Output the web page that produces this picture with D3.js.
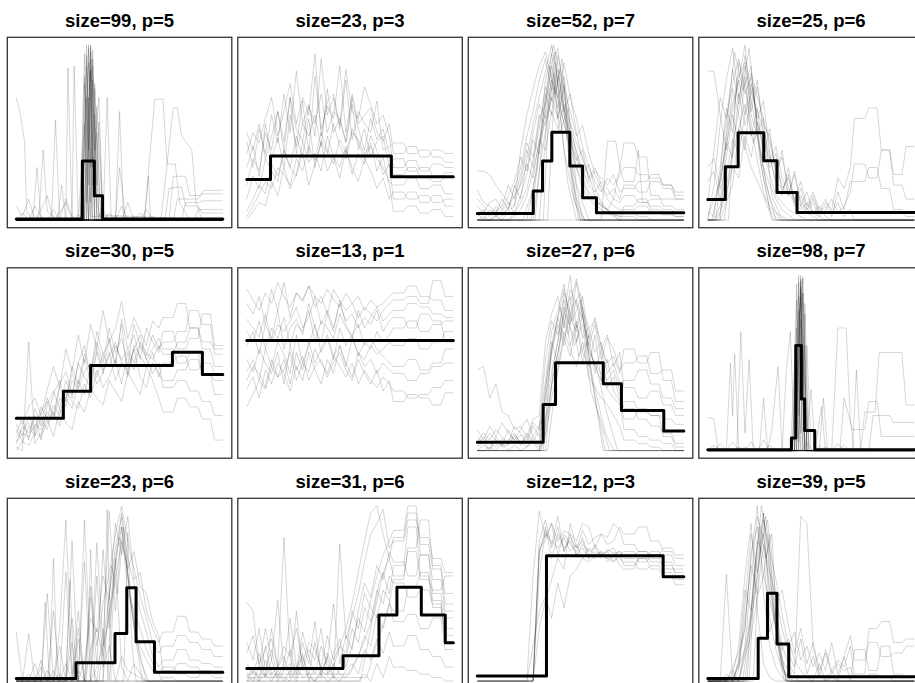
<!DOCTYPE html>
<html>
<head>
<style>
  body { margin: 0; background: #fff; overflow: hidden; }
  svg { display: block; }
  .title { font-family: 'Liberation Sans', Arial, sans-serif; font-weight: bold; font-size: 18.5px; }
</style>
</head>
<body>
<svg id="svgVis"></svg>
<script src="https://cdn.jsdelivr.net/npm/d3@7/dist/d3.min.js"></script>
<script>

// shared x positions (0-100) for the grey lines given as y lists
var xGrid = [0,3,6,9,12,15,18,21,24,27,30,33,36,39,42,45,48,51,54,57,60,63,66,69,
             71,76,78,82,84,88,90,94,96,100];

var titles = ["size=99, p=5", "size=23, p=3", "size=52, p=7", "size=25, p=6",
              "size=30, p=5", "size=13, p=1", "size=27, p=6", "size=98, p=7",
              "size=23, p=6", "size=31, p=6", "size=12, p=3", "size=39, p=5"];

// black step lines, [x, y] in percent of the panel range
var step1  = [[0,0.6],[32,33.7],[37.8,13.9],[41.8,0.6],[100,0.6]];
var step2  = [[0,23.2],[11.5,36.6],[70,24.8],[100,24.8]];
var step3  = [[0,3.8],[27.1,16.6],[31.6,33.7],[36.1,50.1],[44.8,30.9],[51,12.8],[57.7,4.2],[100,4.2]];
var step4  = [[0,11.8],[8.5,30.5],[14.7,49.9],[27.1,33.9],[33.5,15.8],[43.2,4.4],[100,4.4]];
var step5  = [[0,18.5],[22.8,33.9],[36,48.6],[75.6,56.2],[90.1,43.4],[100,43.4]];
var step6  = [[0,62.9],[100,62.9]];
var step7  = [[0,4.8],[31.9,26.3],[37.9,50.1],[61,38.1],[69.8,22.9],[90.3,11.2],[100,11.2]];
var step8  = [[0,0.5],[40.5,7.2],[42.6,60],[45.3,29.5],[46.9,11.4],[51.8,0.5],[100,0.5]];
var step9  = [[0,1.5],[28.9,10.5],[47.8,27.2],[53.5,53.3],[58,22.5],[66.9,5],[100,5]];
var step10 = [[0,7.2],[46.6,14.5],[64,37.7],[72.7,53.5],[84.5,37.7],[96.1,21.9],[100,21.9]];
var step11 = [[0,2.9],[33.5,71.6],[90,59.6],[100,59.6]];
var step12 = [[0,1.5],[24.4,24.4],[28.9,50.1],[33.5,21.1],[39.2,2.5],[100,2.5]];

// grey lines as y values on xGrid
var grey1 = [
  [8,2,12,0,6,14,0,4,10,0,3,0,0,0,0,4,0,8,0,2,0,6,0,0, 0,0,0,0,0,0,0,0,0,0],
  [0,4,0,8,2,0,6,0,12,2,0,0,0,0,6,0,2,0,10,0,4,0,2,0, 0,0,0,0,0,0,0,0,0,0]
];
var grey2 = [
  [20,35,28,50,40,62,45,70,38,55,48,60,42,75,50,58,44,66,40,52,36,45,48,30, 35,35,28,28,30,30,25,25,27,27],
  [45,30,52,38,60,44,72,50,85,55,66,48,92,60,70,52,80,46,62,55,50,68,40,42, 44,44,38,38,40,40,36,36,33,33],
  [5,12,20,15,32,25,40,30,48,36,58,30,45,38,55,42,35,50,46,38,42,35,30,22, 20,20,24,24,18,18,20,20,15,15],
  [30,42,25,55,35,47,30,60,42,68,38,82,52,65,58,88,50,72,55,60,64,50,45,55, 38,38,42,42,36,36,40,40,38,38],
  [2,8,15,22,18,30,26,20,35,28,42,34,50,40,32,46,38,52,44,35,48,40,26,32, 12,12,16,16,10,10,14,14,8,8],
  [38,50,44,58,70,48,62,78,55,70,60,95,48,68,72,54,86,62,58,76,66,55,60,48, 30,30,34,34,28,28,32,32,30,30],
  [12,25,18,35,28,22,40,30,25,45,33,38,28,48,36,30,42,26,38,32,44,28,36,20, 5,5,8,8,4,4,6,6,2,2],
  [50,40,55,35,48,62,40,70,52,45,65,55,72,50,62,58,45,70,52,40,58,46,52,38, 26,26,30,30,24,24,22,22,25,25],
  [0,5,10,8,22,14,30,18,26,38,20,32,44,28,36,24,40,30,22,35,28,18,24,12, 16,16,12,12,14,14,10,10,12,12]
];
var grey3 = [
  [28,28,26,20,15,10,8,40,60,75,88,96,80,70,55,40,30,22,14,10,6,4,2,0, 4,4,2,2,0,0,0,0,0,0],
  [2,5,3,8,4,6,20,12,35,55,70,85,100,78,60,48,30,18,12,8,10,5,3,2, 8,8,12,12,6,6,4,4,2,2],
  [17,10,8,4,12,6,18,30,48,62,80,92,74,86,64,50,40,28,20,16,22,18,12,10, 14,14,10,10,8,8,6,6,4,4],
  [0,2,0,3,0,5,8,22,40,30,58,66,88,70,82,56,44,36,24,30,20,14,18,12, 20,20,16,16,22,22,18,18,12,12],
  [4,0,6,2,5,10,4,14,26,46,38,72,60,94,76,62,48,54,38,26,18,12,8,6, 6,6,8,8,4,4,3,3,2,2],
  [8,4,10,12,6,14,22,36,28,50,66,58,80,64,90,70,58,42,30,22,16,24,20,26, 30,30,26,26,24,24,20,20,16,16],
  [0,0,0,2,0,0,4,10,18,34,52,76,68,82,62,72,50,34,26,14,8,6,4,2, 2,2,0,0,0,0,0,0,0,0],
  [3,6,2,5,8,20,12,26,44,36,60,54,70,58,76,48,36,24,16,12,8,6,12,30, 44,44,36,36,14,14,8,8,6,6],
  [0,0,0,0,0,0,2,6,14,28,44,62,90,98,70,54,38,26,32,18,10,6,3,0, 0,0,0,0,0,0,0,0,0,0],
  [12,8,4,6,2,8,14,20,32,24,46,40,62,52,66,44,34,40,22,28,24,20,26,16, 18,18,22,22,26,26,20,20,14,14]
];
var grey4 = [
  [85,85,60,40,75,60,42,30,22,14,8,4,2,0,0,0,0,0,0,0,0,0,0,0, 0,0,0,0,0,0,0,0,0,0],
  [0,20,55,80,98,70,88,60,48,30,20,12,6,3,0,0,0,0,0,0,0,0,0,0, 0,0,0,0,0,0,0,0,0,0],
  [5,2,30,64,50,90,72,82,56,40,26,14,10,6,4,2,0,0,0,0,0,0,0,0, 0,0,0,0,0,0,0,0,0,0],
  [10,40,70,58,86,66,94,74,62,52,36,22,18,24,12,8,4,2,0,0,0,0,0,0, 0,0,0,0,0,0,0,0,0,0],
  [0,0,8,26,46,38,60,84,70,58,44,30,20,14,26,8,16,4,2,0,0,0,0,0, 0,0,0,0,0,0,0,0,0,0],
  [2,12,22,44,36,72,54,66,80,46,34,42,24,16,10,6,10,4,8,2,0,0,0,0, 0,0,0,0,0,0,0,0,0,0],
  [30,35,18,50,66,80,100,62,76,54,48,28,36,18,12,22,8,16,6,12,4,10,2,6, 0,0,0,0,0,0,0,0,0,0],
  [0,0,0,10,20,52,40,78,58,68,38,20,14,30,10,18,6,12,4,8,2,16,6,22, 22,22,30,30,18,18,6,6,2,2],
  [22,28,12,36,60,44,82,48,64,36,52,24,40,14,28,10,6,14,4,10,6,24,18,30, 58,58,64,64,40,40,26,26,42,42],
  [0,0,4,16,30,24,48,36,56,44,30,38,16,26,8,14,4,10,2,6,12,4,8,16, 32,32,24,24,40,40,20,20,12,12]
];
var grey5 = [
  [5,10,8,15,12,22,18,30,25,40,35,45,50,42,55,48,60,52,58,50,62,56,52,60, 55,55,62,62,70,70,58,58,48,48],
  [15,8,20,12,25,18,32,40,28,48,38,55,45,62,50,70,56,64,48,72,60,54,66,58, 62,62,68,68,80,80,72,72,55,55],
  [0,5,3,10,8,16,22,14,30,24,40,32,48,38,44,56,40,50,46,58,42,36,50,44, 40,40,46,46,52,52,44,44,40,40],
  [10,18,6,24,14,30,20,38,45,32,50,60,42,68,55,62,48,75,58,66,52,70,62,56, 68,68,58,58,64,64,78,78,60,60],
  [2,0,62,4,10,18,8,24,16,12,28,22,35,30,26,40,34,28,45,38,32,48,40,30, 22,22,30,30,25,25,18,18,6,6],
  [20,15,25,30,20,35,48,36,58,45,66,50,72,58,80,62,70,85,64,76,68,60,74,70, 76,76,84,84,70,70,62,62,58,58],
  [8,12,16,10,22,28,18,36,30,44,36,52,40,58,46,54,62,50,44,60,54,48,56,42, 50,50,54,54,46,46,50,50,44,44],
  [12,5,14,8,18,12,26,20,34,28,24,38,30,46,36,42,52,38,56,46,60,52,44,50, 36,36,40,40,34,34,28,28,20,20],
  [4,14,10,20,6,26,34,24,40,30,50,42,36,56,44,64,50,72,42,58,66,52,58,64, 58,58,50,50,56,56,44,44,32,32]
];
var grey6 = [
  [84,78,88,72,92,80,96,76,90,85,94,82,88,78,92,86,80,84,76,82,78,74,80,84, 86,86,88,88,84,84,97,97,88,88],
  [60,68,55,72,64,80,58,70,75,66,84,70,62,78,68,86,72,64,80,70,76,82,74,78, 80,80,84,84,82,82,78,78,76,76],
  [45,52,40,58,48,62,55,44,66,50,60,72,56,64,52,70,60,66,54,62,58,68,62,66, 70,70,74,74,68,68,72,72,74,74],
  [25,32,40,35,48,42,52,38,56,46,62,50,58,66,54,60,48,64,56,52,60,55,58,62, 60,60,64,64,58,58,62,62,68,68],
  [68,62,74,58,70,64,76,60,72,68,80,62,74,70,64,78,70,66,72,60,64,58,54,50, 48,48,52,52,46,46,50,50,58,58],
  [40,48,44,36,52,42,46,56,40,50,45,58,50,44,54,48,42,50,38,46,40,36,42,38, 34,34,30,30,32,32,36,36,40,40],
  [75,70,65,78,62,72,68,74,82,70,76,88,72,80,70,84,74,78,70,76,72,80,68,74, 76,76,70,70,78,78,74,74,62,62],
  [52,45,58,50,44,56,38,60,46,54,40,48,52,42,50,56,46,40,52,44,38,46,34,40, 28,28,32,32,30,30,26,26,33,33],
  [35,42,30,46,38,50,44,34,48,40,56,46,38,52,44,60,50,42,56,48,52,44,50,46, 44,44,40,40,44,44,48,48,50,50],
  [92,86,80,90,84,96,88,82,90,86,94,88,84,92,86,82,90,84,88,80,86,82,84,88, 90,90,94,94,88,88,86,86,80,80]
];
var grey7 = [
  [46,48,30,38,22,20,12,14,8,18,20,62,78,88,70,92,84,76,60,48,40,35,30,26, 28,28,22,22,20,20,18,18,15,15],
  [2,5,0,8,3,6,10,4,8,5,12,40,68,80,95,72,86,64,70,56,62,44,50,38, 40,40,46,46,38,38,30,30,24,24],
  [8,4,10,6,3,12,5,9,4,14,8,30,55,72,60,84,98,80,70,74,58,66,48,56, 36,36,30,30,34,34,26,26,20,20],
  [0,3,1,6,2,4,8,3,10,6,2,18,45,62,90,76,68,82,60,72,52,64,58,46, 50,50,54,54,44,44,46,46,34,34],
  [5,10,6,12,8,4,14,10,6,16,12,52,74,66,86,70,62,78,56,50,44,40,46,34, 24,24,18,18,14,14,10,10,4,4],
  [12,6,14,8,16,10,6,12,18,8,14,26,58,76,64,54,72,50,66,44,58,36,42,30, 18,18,24,24,20,20,8,8,2,2],
  [0,0,2,0,4,0,3,0,2,5,0,10,38,56,78,100,70,88,64,76,60,50,54,44, 58,58,50,50,56,56,40,40,28,28],
  [3,8,4,2,7,3,9,5,2,8,4,36,62,50,82,60,74,56,48,66,40,52,34,28, 12,12,8,8,6,6,4,4,0,0],
  [0,0,0,0,0,0,0,0,0,0,0,8,30,46,68,58,48,62,42,36,30,26,20,14, 6,6,4,4,2,2,0,0,0,0]
];
var grey8 = [
  [0,3,0,0,5,0,2,0,0,6,0,0,0,0,0,0,0,0,3,0,0,4,0,0, 0,0,0,0,0,0,0,0,0,0],
  [0,0,4,0,0,2,0,5,0,0,3,0,0,0,0,0,4,0,0,2,0,0,3,0, 0,0,0,0,0,0,0,0,0,0]
];
var grey9 = [
  [28,0,0,10,0,6,0,30,92,4,40,0,0,60,8,20,0,14,6,4,2,0,0,0, 0,0,0,0,0,0,0,0,0,0],
  [0,0,27,0,12,0,6,0,0,80,0,92,12,0,30,0,70,8,0,10,4,0,0,0, 2,2,0,0,0,0,0,0,0,0],
  [0,0,4,0,0,50,0,20,0,36,0,68,0,79,20,97,40,88,60,30,20,12,6,4, 8,8,4,4,2,2,6,6,4,4],
  [0,2,0,0,8,0,40,0,62,0,24,0,48,10,75,30,66,96,70,56,40,28,14,8, 12,12,18,18,12,12,10,10,8,8],
  [0,0,0,0,0,0,0,0,10,0,30,0,54,20,44,62,84,100,80,64,48,36,22,16, 20,20,26,26,22,22,18,18,14,14],
  [0,0,0,0,0,0,0,4,0,22,0,12,36,28,60,46,90,72,94,58,62,40,30,22, 28,28,37,37,28,28,24,24,20,20],
  [0,0,0,0,0,0,0,0,0,0,6,0,18,30,14,40,58,80,64,74,54,50,34,26, 6,6,10,10,8,8,4,4,2,2],
  [0,0,0,0,0,0,0,0,0,0,0,0,0,8,20,36,72,88,50,40,30,18,10,4, 0,0,0,0,0,0,0,0,0,0]
];
var grey10 = [
  [45,40,8,30,12,46,6,18,4,22,10,34,2,16,8,20,30,44,62,80,96,100,84,70, 60,60,74,74,58,58,52,52,60,60],
  [10,4,16,2,30,8,82,12,6,28,14,4,20,10,2,78,24,36,50,68,84,90,98,76, 80,80,92,92,82,82,70,70,62,62],
  [0,6,2,20,4,8,14,2,40,6,18,12,30,4,16,24,8,20,36,28,46,60,72,80, 86,86,100,100,78,78,64,64,44,44],
  [22,12,30,6,18,2,10,36,8,14,4,22,6,12,44,10,26,18,40,56,48,66,58,74, 68,68,60,60,72,72,58,58,40,40],
  [4,0,8,2,12,0,6,10,2,16,0,8,4,14,2,6,12,30,22,42,34,52,44,60, 56,56,48,48,52,52,44,44,30,30],
  [0,2,0,4,0,6,2,0,8,2,4,0,6,3,10,4,2,8,14,26,20,38,30,44, 40,40,54,54,62,62,46,46,22,22],
  [16,26,10,18,24,8,20,14,30,10,22,18,8,26,12,20,16,40,30,50,42,36,52,46, 34,34,38,38,30,30,36,36,18,18],
  [2,8,0,12,2,4,0,6,0,10,2,0,4,0,2,0,6,10,4,18,12,24,16,28, 20,20,26,26,18,18,14,14,8,8],
  [0,0,0,0,0,0,0,0,0,0,0,0,0,0,0,0,0,0,0,4,0,10,2,14, 8,8,6,6,4,4,2,2,0,0]
];
var grey11 = [
  [0,0,0,0,0,0,0,0,0,60,97,82,90,80,86,84,80,90,88,76,84,82,90,86, 78,78,74,74,72,72,76,76,72,72],
  [0,0,0,0,0,0,0,0,0,0,80,92,76,88,74,84,72,78,74,76,72,75,73,74, 72,72,74,74,70,70,72,72,66,66],
  [0,0,0,0,0,0,0,0,0,20,40,48,36,56,42,60,64,70,68,72,74,70,72,74, 70,70,72,72,68,68,66,66,62,62],
  [0,0,0,0,0,0,0,0,0,0,72,88,70,84,76,80,72,76,70,74,72,70,68,72, 66,66,70,70,64,64,60,60,55,55],
  [0,0,0,0,0,0,0,0,0,0,60,86,78,94,74,82,76,80,70,78,72,74,76,70, 68,68,64,64,66,66,62,62,58,58],
  [0,0,0,0,0,0,0,0,0,0,30,46,58,70,64,90,76,86,78,82,84,78,80,88, 84,84,88,88,80,80,74,74,70,70],
  [0,0,0,0,0,0,0,0,0,0,76,80,90,72,84,78,74,82,72,70,74,68,72,66, 64,64,70,70,74,74,68,68,60,60],
  [0,0,0,0,0,0,0,0,0,0,74,84,80,76,82,74,78,70,76,72,70,74,68,72, 74,74,68,68,72,72,64,64,64,64]
];
var grey12 = [
  [0,0,0,0,4,20,60,90,40,10,2,0,0,0,0,0,0,0,0,0,0,0,0,0, 0,0,0,0,0,0,0,0,0,0],
  [0,0,0,61,0,10,30,70,100,50,20,8,2,0,0,0,0,0,0,0,0,0,0,0, 0,0,0,0,0,0,0,0,0,0],
  [0,0,0,0,0,6,44,84,62,96,36,18,6,2,0,0,0,0,0,0,0,0,0,0, 0,0,0,0,0,0,0,0,0,0],
  [0,0,2,0,8,16,30,74,88,60,46,30,12,6,2,0,0,0,0,0,0,0,0,0, 0,0,0,0,0,0,0,0,0,0],
  [0,0,0,4,0,12,52,40,80,72,28,40,20,10,4,94,90,20,4,0,2,0,0,0, 0,0,0,0,0,0,0,0,0,0],
  [0,0,0,0,6,0,20,58,94,82,54,34,18,24,12,6,2,0,10,0,6,0,14,0, 18,18,6,6,20,20,4,4,2,2],
  [0,0,0,0,0,10,36,66,50,78,62,48,30,16,8,24,4,14,2,18,6,12,8,20, 4,4,30,30,34,34,22,22,24,24],
  [0,0,0,0,2,8,18,40,70,92,74,58,38,20,28,12,20,8,16,6,22,4,14,26, 12,12,22,22,14,14,16,16,20,20],
  [0,0,0,0,0,0,14,26,48,60,84,46,52,32,16,30,10,22,6,16,4,10,6,8, 2,2,4,4,2,2,0,0,0,0]
];

// extra grey lines with their own x positions: x0,y0,x1,y1,...
var spikes1 = [
  [0,70, 2,60, 4,45, 5,5, 8,0, 11,2, 13,40, 15,5, 20,0, 100,0],
  [0,0, 8,0, 10,30, 12,0, 17,0, 19,57, 21,0, 27,0, 28,88, 30,0, 100,0],
  [0,0, 20,0, 22,20, 24,0, 25,87, 27,0, 100,0],
  [0,0, 42,0, 44,70, 46,0, 48,0, 50,62, 52,0, 100,0],
  [0,0, 48,0, 50,30, 53,0, 62,0, 64,25, 65,0, 100,0],
  [0,0, 62,0, 67,69, 71,69, 73,32, 77,32, 79,10, 84,0, 100,0],
  [0,0, 70,0, 76,64, 78,64, 80,48, 85,40, 87,10, 90,0, 100,0],
  [0,0, 74,0, 76,25, 82,25, 84,14, 89,14, 91,17, 100,17],
  [0,0, 76,0, 78,12, 88,12, 90,15, 100,15],
  [0,0, 80,0, 82,10, 88,10, 90,11, 100,11],
  [0,0, 86,0, 88,6, 100,6],
  [0,0, 72,0, 74,18, 80,19, 82,8, 88,8, 90,4, 100,4],
  [0,0, 31,0, 33,95, 35,0, 100,0],
  [0,0, 32,0, 34,100, 36,2, 100,0],
  [0,0, 33,0, 35,90, 37,0, 100,0],
  [0,0, 32,0, 35,98, 38,0, 100,0],
  [0,0, 34,0, 36,85, 38,0, 100,0],
  [0,0, 33,0, 36,96, 39,0, 100,0],
  [0,0, 35,0, 37,80, 39,3, 100,0],
  [0,0, 31,0, 34,70, 36,10, 38,60, 40,0, 100,0],
  [0,0, 35,0, 38,75, 41,0, 100,0],
  [0,0, 30,0, 33,55, 35,0, 100,0],
  [0,0, 36,0, 39,65, 42,0, 100,0],
  [0,0, 33,0, 35,100, 37,20, 39,50, 41,0, 100,0],
  [0,0, 32,0, 34,88, 36,30, 37,92, 39,0, 100,0],
  [0,0, 34,0, 36,100, 38,40, 40,70, 42,0, 100,0],
  [0,0, 33,0, 34,94, 35,20, 36,86, 38,0, 100,0],
  [0,0, 35,0, 36,92, 37,30, 38,78, 40,0, 100,0],
  [0,0, 31,0, 33,78, 35,40, 37,97, 39,10, 41,0, 100,0],
  [0,0, 36,0, 37,88, 39,20, 40,56, 42,0, 100,0],
  [0,0, 34,0, 35,60, 36,99, 38,0, 100,0],
  [0,0, 32,0, 33,82, 34,10, 35,70, 37,0, 100,0]
];
var spikes2 = [];
var spikes3 = [
  [0,0, 60,0, 63,45, 67,45, 69,30, 71,22, 76,22, 78,40, 80,10, 82,10, 84,12, 100,12],
  [0,0, 26,0, 30,40, 33,70, 36,95, 40,60, 44,20, 48,0, 100,0],
  [0,0, 28,0, 32,55, 35,88, 38,72, 41,92, 45,30, 50,0, 100,0],
  [0,0, 24,0, 29,30, 33,80, 37,100, 40,66, 43,50, 47,10, 52,0, 100,0],
  [0,0, 30,0, 34,62, 37,84, 39,58, 42,78, 46,24, 49,0, 100,0],
  [0,0, 22,0, 27,18, 31,48, 35,66, 38,90, 42,40, 46,16, 50,0, 100,0],
  [0,0, 32,0, 35,74, 38,96, 41,70, 44,46, 48,12, 52,0, 100,0],
  [0,0, 27,0, 31,36, 34,58, 37,76, 40,50, 44,64, 48,20, 54,0, 100,0],
  [0,0, 34,0, 37,68, 40,86, 43,54, 46,32, 51,0, 100,0]
];
var spikes4 = [
  [0,0, 4,0, 8,50, 12,78, 15,92, 19,70, 23,40, 28,10, 32,0, 100,0],
  [0,0, 6,0, 10,64, 13,96, 17,74, 21,88, 25,36, 30,6, 34,0, 100,0],
  [0,0, 2,0, 7,30, 11,56, 15,80, 18,60, 22,76, 26,30, 31,0, 100,0],
  [0,0, 8,0, 12,42, 16,70, 20,98, 24,52, 28,22, 33,0, 100,0],
  [0,0, 5,0, 9,20, 14,48, 18,66, 22,44, 27,58, 31,14, 36,0, 100,0],
  [0,0, 10,0, 14,80, 18,90, 22,62, 26,34, 30,12, 35,0, 100,0]
];
var spikes5 = [];
var spikes6 = [];
var spikes7 = [
  [0,0, 30,0, 34,44, 38,70, 42,92, 46,74, 50,86, 54,50, 58,24, 62,0, 100,0],
  [0,0, 32,0, 36,60, 40,82, 44,66, 48,96, 52,70, 56,40, 62,10, 66,0, 100,0],
  [0,0, 31,0, 35,30, 39,56, 43,78, 47,60, 51,72, 55,34, 60,16, 64,0, 100,0],
  [0,0, 33,0, 37,50, 41,74, 45,88, 49,54, 53,62, 57,30, 61,0, 100,0],
  [0,0, 34,0, 38,38, 42,64, 46,82, 50,90, 54,58, 58,46, 63,20, 68,0, 100,0]
];
var spikes8 = [
  [0,19, 3,18, 5,0, 100,0],
  [0,0, 9,0, 11,50, 12,20, 13,55, 15,0, 100,0],
  [0,0, 14,0, 16,68, 18,10, 20,52, 22,0, 100,0],
  [0,0, 25,0, 27,30, 29,0, 31,12, 34,48, 36,0, 100,0],
  [0,0, 36,0, 38,45, 40,68, 42,0, 100,0],
  [0,0, 47,0, 50,35, 52,0, 55,25, 57,0, 100,0],
  [0,0, 60,0, 63,70, 67,70, 69,18, 71,0, 100,0],
  [0,0, 70,0, 72,46, 74,0, 76,22, 81,22, 83,56, 94,56, 96,26, 100,26],
  [0,0, 78,0, 80,20, 88,20, 90,16, 100,16],
  [0,0, 54,0, 56,30, 58,0, 64,0, 66,30, 70,12, 76,12, 78,28, 82,28, 84,8, 100,8],
  [0,0, 41,0, 43,95, 45,0, 100,0],
  [0,0, 42,0, 44,100, 46,0, 100,0],
  [0,0, 43,0, 45,92, 47,0, 100,0],
  [0,0, 41,0, 44,88, 47,0, 100,0],
  [0,0, 42,0, 45,97, 48,0, 100,0],
  [0,0, 43,0, 44,80, 46,0, 100,0],
  [0,0, 40,0, 43,70, 45,10, 47,60, 49,0, 100,0],
  [0,0, 44,0, 46,90, 48,0, 100,0],
  [0,0, 42,0, 45,75, 49,0, 100,0],
  [0,0, 45,0, 47,84, 49,0, 100,0],
  [0,0, 41,0, 43,55, 44,5, 46,98, 48,0, 100,0],
  [0,0, 46,0, 48,60, 50,0, 100,0],
  [0,0, 43,0, 44,96, 45,40, 46,90, 47,0, 100,0],
  [0,0, 42,0, 43,86, 44,20, 45,100, 47,0, 100,0],
  [0,0, 44,0, 45,94, 46,30, 47,78, 48,0, 100,0],
  [0,0, 43,0, 44,72, 46,99, 48,0, 100,0],
  [0,0, 42,0, 44,64, 45,88, 47,0, 100,0],
  [0,0, 44,0, 45,98, 47,0, 100,0]
];
var spikes9 = [
  [0,0, 16,0, 18,70, 20,0, 24,0, 26,58, 28,0, 100,0],
  [0,0, 12,0, 14,45, 16,0, 34,0, 36,75, 38,0, 100,0],
  [0,0, 42,0, 44,98, 46,0, 52,0, 54,85, 56,20, 58,0, 100,0],
  [0,0, 40,0, 44,40, 48,76, 51,94, 54,60, 57,30, 61,0, 100,0],
  [0,0, 44,0, 47,58, 50,82, 53,70, 56,44, 60,12, 64,0, 100,0],
  [0,0, 42,0, 46,66, 49,50, 52,88, 55,48, 59,20, 63,0, 100,0]
];
var spikes10 = [
  [0,0, 55,0, 60,30, 64,56, 69,70, 71,82, 76,82, 78,96, 82,96, 84,72, 88,72, 90,50, 94,50, 96,36, 100,36],
  [0,4, 50,4, 56,20, 62,40, 66,62, 69,50, 71,66, 76,66, 78,88, 82,88, 84,60, 88,60, 90,42, 94,42, 96,26, 100,26],
  [0,2, 58,2, 62,18, 66,32, 69,44, 71,58, 76,58, 78,76, 82,76, 84,92, 88,92, 90,66, 94,66, 96,50, 100,50]
];
var spikes11 = [];
var spikes12 = [
  [0,0, 17,0, 21,40, 24,76, 27,96, 30,62, 33,30, 37,0, 100,0],
  [0,0, 19,0, 22,58, 25,88, 28,70, 31,84, 34,20, 38,0, 100,0],
  [0,0, 15,0, 19,22, 23,50, 26,80, 29,92, 32,44, 36,8, 40,0, 100,0],
  [0,0, 20,0, 23,66, 26,100, 29,78, 32,36, 35,12, 39,0, 100,0],
  [0,0, 18,0, 21,34, 24,62, 27,84, 30,50, 34,24, 38,0, 100,0],
  [0,0, 22,0, 25,72, 28,94, 31,60, 34,28, 38,0, 100,0]
];

var steps = [step1, step2, step3, step4, step5, step6, step7, step8, step9, step10, step11, step12];
var greys = [grey1, grey2, grey3, grey4, grey5, grey6, grey7, grey8, grey9, grey10, grey11, grey12];
var spikes = [spikes1, spikes2, spikes3, spikes4, spikes5, spikes6, spikes7, spikes8, spikes9, spikes10, spikes11, spikes12];

var width = 915, height = 683;

var svg = d3.select("#svgVis")
    .attr("width", width)
    .attr("height", height);

var panelW = 224.5, panelH = 190.4,
    left0 = 7.3, top0 = 37.3,
    pitchX = 230.5, pitchY = 230.5;

titles.forEach(function(title, i) {
  var col = i % 4, row = Math.floor(i / 4);
  var px = left0 + col * pitchX, py = top0 + row * pitchY;

  var x = d3.scaleLinear().domain([0, 100]).range([px + panelW * 0.04, px + panelW * 0.96]);
  var y = d3.scaleLinear().domain([0, 100]).range([py + panelH * 0.96, py + panelH * 0.04]);

  var g = svg.append("g");

  var line = d3.line()
      .x(function(d) { return x(d[0]); })
      .y(function(d) { return y(d[1]); });

  // grey lines on the shared grid
  g.selectAll("path.grid")
    .data(greys[i])
    .enter().append("path")
      .attr("class", "grid")
      .attr("d", function(d) { return line(d.map(function(v, k) { return [xGrid[k], v]; })); })
      .style("fill", "none")
      .style("stroke", "#000")
      .style("stroke-opacity", 0.16)
      .style("stroke-width", 1);

  // grey lines with their own x
  g.selectAll("path.spike")
    .data(spikes[i])
    .enter().append("path")
      .attr("class", "spike")
      .attr("d", function(d) {
        var pts = [];
        for (var k = 0; k < d.length; k += 2) pts.push([d[k], d[k + 1]]);
        return line(pts);
      })
      .style("fill", "none")
      .style("stroke", "#000")
      .style("stroke-opacity", 0.16)
      .style("stroke-width", 1);

  // black step line
  g.append("path")
    .attr("d", line.curve(d3.curveStepAfter)(steps[i]))
    .style("fill", "none")
    .style("stroke", "#000")
    .style("stroke-width", 3)
    .style("stroke-linejoin", "round")
    .style("stroke-linecap", "round");

  g.append("rect")
    .attr("x", px)
    .attr("y", py)
    .attr("width", panelW)
    .attr("height", panelH)
    .style("fill", "none")
    .style("stroke", "#333")
    .style("stroke-width", 1.3);

  svg.append("text")
    .attr("class", "title")
    .attr("x", px + panelW / 2)
    .attr("y", py - 10.5)
    .attr("text-anchor", "middle")
    .text(title);
});

</script>
</body>
</html>
